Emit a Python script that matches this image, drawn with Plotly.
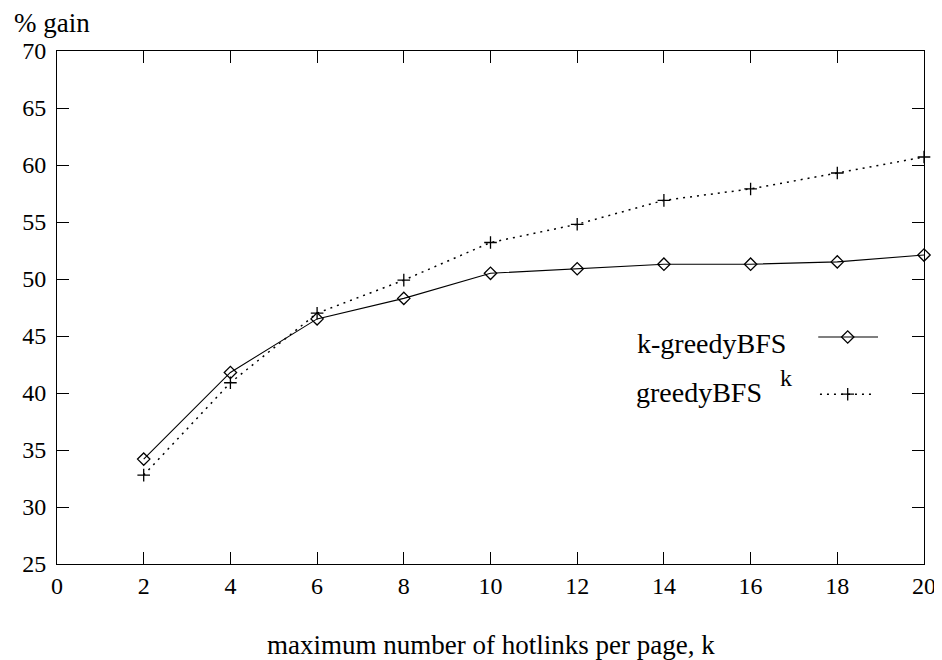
import plotly.graph_objects as go

k_values = [2, 4, 6, 8, 10, 12, 14, 16, 18, 20]
k_greedy_bfs = [34.2, 41.8, 46.5, 48.3, 50.5, 50.9, 51.3, 51.3, 51.5, 52.1]
greedy_bfs_k = [32.8, 40.9, 47.0, 49.9, 53.2, 54.8, 56.9, 57.9, 59.3, 60.7]
x_ticks = [0, 2, 4, 6, 8, 10, 12, 14, 16, 18, 20]
y_ticks = [25, 30, 35, 40, 45, 50, 55, 60, 65, 70]

FONT = "Liberation Serif"
FS_TICK = 24
FS_TEXT = 28
DOTS = "2px,5px"

diamond = dict(symbol="diamond-open", size=9.5, color="black", line=dict(width=1.3, color="black"))
plus = dict(symbol="cross-thin-open", size=9, color="black", line=dict(width=1.3, color="black"))

fig = go.Figure()
fig.add_trace(go.Scatter(
    x=k_values, y=k_greedy_bfs, mode="lines+markers", showlegend=False, cliponaxis=False,
    line=dict(color="black", width=1.1), marker=diamond,
))
fig.add_trace(go.Scatter(
    x=k_values, y=greedy_bfs_k, mode="lines+markers", showlegend=False, cliponaxis=False,
    line=dict(color="black", width=1.5, dash=DOTS), marker=plus,
))

# legend samples on an overlay axis (paper-like 0..1 coordinates)
fig.add_trace(go.Scatter(
    x=[0.878, 0.912, 0.947], y=[0.4425, 0.4425, 0.4425], mode="lines", xaxis="x2", yaxis="y2",
    showlegend=False, line=dict(color="black", width=1.1), hoverinfo="skip", cliponaxis=False))
fig.add_trace(go.Scatter(
    x=[0.912], y=[0.4425], mode="markers", xaxis="x2", yaxis="y2", showlegend=False,
    marker=diamond, hoverinfo="skip", cliponaxis=False))
fig.add_trace(go.Scatter(
    x=[0.880, 0.940], y=[0.331, 0.331], mode="lines", xaxis="x2", yaxis="y2",
    showlegend=False, line=dict(color="black", width=1.5, dash=DOTS), hoverinfo="skip", cliponaxis=False))
fig.add_trace(go.Scatter(
    x=[0.912], y=[0.331], mode="markers", xaxis="x2", yaxis="y2", showlegend=False,
    marker=plus, hoverinfo="skip", cliponaxis=False))

axis_common = dict(
    showline=True, linecolor="black", linewidth=1, mirror="ticks",
    ticks="inside", ticklen=12, tickcolor="black", tickwidth=1,
    showgrid=False, zeroline=False,
    tickfont=dict(family=FONT, size=FS_TICK, color="black"),
)

txt = dict(family=FONT, size=FS_TEXT, color="black")

# the page body adds an 8px offset, so margins are shifted to compensate
fig.update_layout(
    width=942, height=660,
    margin=dict(l=49, r=26, t=43, b=104),
    paper_bgcolor="white", plot_bgcolor="white",
    font=dict(family=FONT, size=FS_TEXT, color="black"),
    xaxis=dict(range=[0, 20], tickvals=x_ticks, ticklabelstandoff=0, **axis_common),
    yaxis=dict(range=[25, 70], tickvals=y_ticks, ticklabelstandoff=5, **axis_common),
    xaxis2=dict(range=[0, 1], overlaying="x", visible=False, anchor="y2"),
    yaxis2=dict(range=[0, 1], overlaying="y", visible=False, anchor="x2"),
    annotations=[
        dict(text="% gain", xref="paper", yref="paper", x=-0.052, y=1.054,
             xanchor="left", yanchor="middle", showarrow=False,
             font=dict(family=FONT, size=27, color="black")),
        dict(text="maximum number of hotlinks per page, k", xref="paper", yref="paper",
             x=0.5, y=-0.158, xanchor="center", yanchor="middle", showarrow=False,
             font=dict(family=FONT, size=27, color="black")),
        dict(text="k-greedyBFS", xref="paper", yref="paper", x=0.843, y=0.43,
             xanchor="right", yanchor="middle", showarrow=False, font=txt),
        dict(text="greedyBFS", xref="paper", yref="paper", x=0.815, y=0.334,
             xanchor="right", yanchor="middle", showarrow=False, font=txt),
        dict(text="k", xref="paper", yref="paper", x=0.832, y=0.362,
             xanchor="left", yanchor="middle", showarrow=False, font=dict(family=FONT, size=24, color="black")),
    ],
)

fig.write_html("out.html")
